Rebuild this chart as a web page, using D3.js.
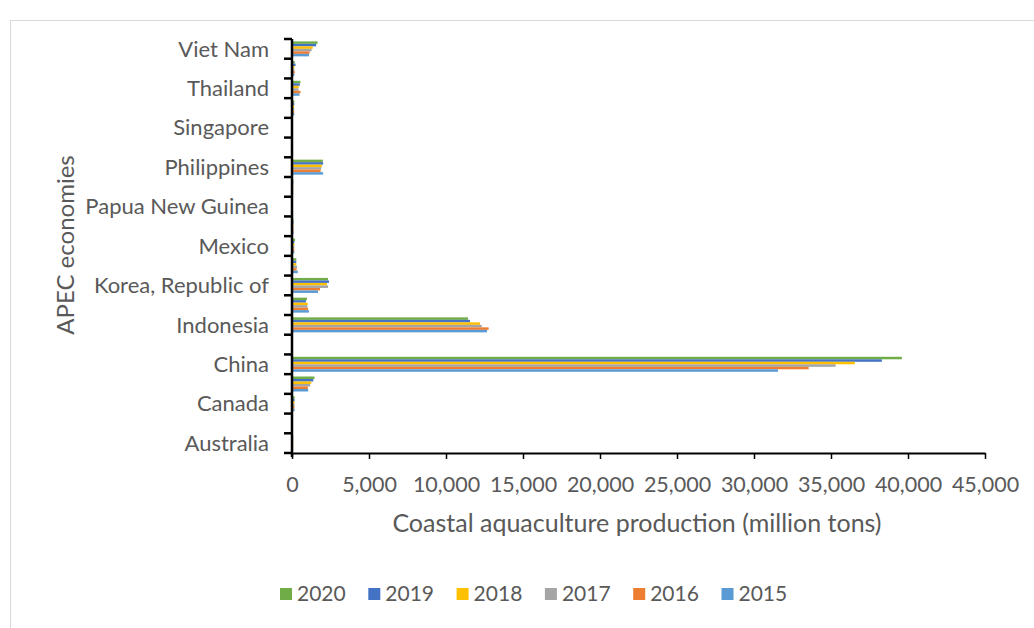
<!DOCTYPE html>
<html><head><meta charset="utf-8">
<script src="https://cdn.jsdelivr.net/npm/d3@7"></script>
<style>body{margin:0;background:#fff}svg{display:block}text{font-family:Lato,"Open Sans",sans-serif}</style>
</head><body><div id="chart"></div>
<script>
const economies = ["Australia","Brunei Darussalam","Canada","Chile","China","Hong Kong, China","Indonesia","Japan","Korea, Republic of","Malaysia","Mexico","New Zealand","Papua New Guinea","Peru","Philippines","Russian Federation","Singapore","Chinese Taipei","Thailand","United States","Viet Nam"];
const shownLabels = ["Australia","Canada","China","Indonesia","Korea, Republic of","Mexico","Papua New Guinea","Philippines","Singapore","Thailand","Viet Nam"];
const years = ["2020","2019","2018","2017","2016","2015"];
const colors = ["#70AD47","#4472C4","#FFC000","#A5A5A5","#ED7D31","#5B9BD5"];
const v2020 = [80,5,170,1460,39600,20,11430,970,2340,280,200,100,0,90,2000,60,10,150,550,180,1660];
const v2019 = [80,5,170,1380,38300,20,11560,910,2400,280,150,100,0,90,2020,50,10,150,510,230,1570];
const v2018 = [80,5,160,1250,36550,20,12210,1020,2270,280,150,100,0,80,1940,40,10,140,440,150,1350];
const v2017 = [80,5,160,1180,35300,20,12320,1000,2340,330,150,100,0,80,1900,40,10,140,420,150,1270];
const v2016 = [80,5,160,1030,33550,20,12770,1040,1820,300,150,100,0,80,1860,40,10,140,550,180,1140];
const v2015 = [80,5,170,1050,31560,20,12660,1100,1690,380,150,100,0,80,2020,40,10,150,490,150,1100];
const seriesValues = [v2020,v2019,v2018,v2017,v2016,v2015];
const xTicks = [0,5000,10000,15000,20000,25000,30000,35000,40000,45000];

const W=1034,H=628;
const svg=d3.select("#chart").append("svg").attr("width",W).attr("height",H);
svg.append("rect").attr("x",10.5).attr("y",20.5).attr("width",1030).attr("height",620).attr("fill","#fff").attr("stroke","#d9d9d9");

const x=d3.scaleLinear().domain([0,45000]).range([292,985]);
const y=d3.scaleBand().domain(economies.slice().reverse()).range([39,453]).paddingInner(0.24).paddingOuter(0.12);
const inner=d3.scaleBand().domain(years).range([0,y.bandwidth()]);

const g=svg.append("g");
economies.forEach((e,i)=>{
  years.forEach((yr,k)=>{
    g.append("rect").attr("x",x(0)).attr("y",y(e)+inner(yr)).attr("width",Math.max(0,x(seriesValues[k][i])-x(0))).attr("height",inner.bandwidth()).attr("fill",colors[k]);
  });
});

// x axis
const xa=svg.append("g").attr("transform","translate(0,453)").call(d3.axisBottom(x).tickValues(xTicks).tickSize(6).tickSizeOuter(0).tickFormat(d3.format(",")));
xa.select(".domain").attr("stroke","#000").attr("stroke-width",2);
xa.selectAll(".tick line").attr("stroke","#000").attr("stroke-width",1.5);
xa.selectAll(".tick text").attr("fill","#595959").attr("font-size",21.5).attr("dy",0).attr("y",39);

// y axis: ticks at category boundaries
const y0=39, y1=453;
svg.append("line").attr("x1",292).attr("x2",292).attr("y1",y0).attr("y2",y1+4).attr("stroke","#000").attr("stroke-width",2.5);
d3.range(economies.length+1).forEach(i=>{
  const yy=y0+i*(y1-y0)/economies.length;
  svg.append("line").attr("x1",284).attr("x2",292).attr("y1",yy).attr("y2",yy).attr("stroke","#000").attr("stroke-width",2.5);
});
economies.forEach(e=>{
  if(shownLabels.includes(e)){
    svg.append("text").attr("x",269).attr("y",y(e)+y.bandwidth()/2).attr("dy","0.35em").attr("text-anchor","end").attr("font-size",22).attr("fill","#595959").text(e);
  }
});

svg.append("text").attr("x",637).attr("y",532).attr("text-anchor","middle").attr("font-size",25).attr("fill","#595959").text("Coastal aquaculture production (million tons)");
svg.append("text").attr("transform","translate(74,245) rotate(-90)").attr("text-anchor","middle").attr("font-size",24).attr("fill","#595959").text("APEC economies");

// legend
const lg=svg.append("g");
years.forEach((yr,k)=>{
  const lx=280+k*88.3;
  lg.append("rect").attr("x",lx).attr("y",588).attr("width",12).attr("height",12).attr("fill",colors[k]);
  lg.append("text").attr("x",lx+17).attr("y",601).attr("font-size",21).attr("fill","#595959").text(yr);
});
</script></body></html>
